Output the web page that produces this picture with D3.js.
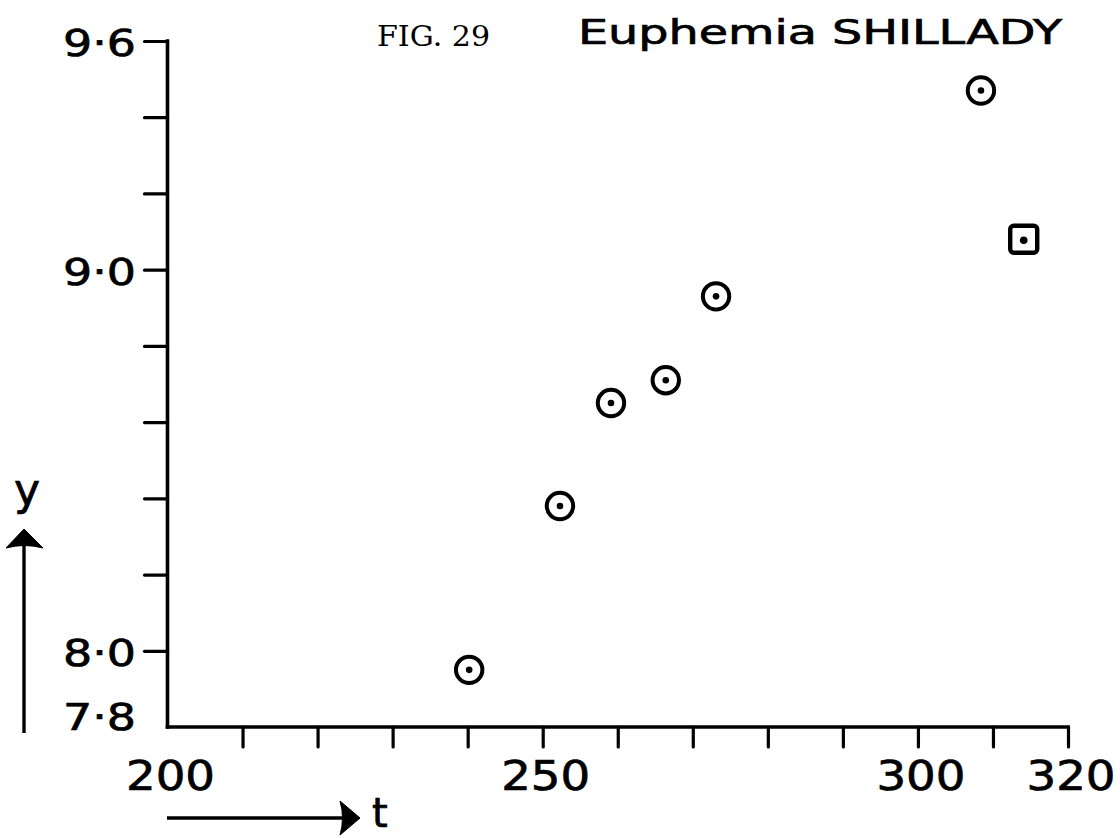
<!DOCTYPE html>
<html>
<head>
<meta charset="utf-8">
<script src="https://cdn.jsdelivr.net/npm/d3@7"></script>
<style>
  html, body { margin: 0; padding: 0; background: #fff; }
  svg { display: block; }
  .lbl { font-family: "DejaVu Sans", "Lato", sans-serif; fill: #000; stroke: #000; stroke-width: 0.7px; }
  .fig { font-family: "DejaVu Serif", "Liberation Serif", serif; fill: #000; }
</style>
</head>
<body>
<svg id="chart" width="1120" height="838"></svg>
<script>
// Observations: time t against y
const tValues = [240.2, 252.3, 259.1, 266.4, 273.1, 308.4];
const yValues = [7.95, 8.38, 8.65, 8.71, 8.93, 9.47];

// The one point plotted with a square symbol
const squareT = [314.1];
const squareY = [9.08];

// Axis ticks and labels
const xTickValues = [210, 220, 230, 240, 250, 260, 270, 280, 290, 300, 310, 320];
const xTickLabels = [200, 250, 300, 320];
const yTickValues = [8.0, 8.2, 8.4, 8.6, 8.8, 9.0, 9.2, 9.4, 9.6];
const yTickLabels = [9.6, 9.0, 8.0, 7.8];

const svg = d3.select("#chart");

const x = d3.scaleLinear().domain([200, 320]).range([167.5, 1068]);
const y = d3.scaleLinear().domain([7.8, 9.6]).range([727, 41]);

const ink = "#000";
const fmtY = v => v.toFixed(1).replace(".", "\u00B7");

// x axis: ticks hang below the line
const gx = svg.append("g")
  .attr("transform", `translate(0,${y(7.8)})`)
  .call(d3.axisBottom(x).tickValues(xTickValues).tickSize(20).tickSizeOuter(0).tickFormat(""));
gx.select(".domain").attr("stroke", ink).attr("stroke-width", 3.6)
  .attr("d", `M${x(200) - 1.8},0H${x(320) + 1.8}`);
gx.selectAll(".tick line").attr("stroke", ink).attr("stroke-width", 3.2).attr("stroke-linecap", "round");

// y axis: ticks point left
const gy = svg.append("g")
  .attr("transform", `translate(${x(200)},0)`)
  .call(d3.axisLeft(y).tickValues(yTickValues).tickSize(23).tickSizeOuter(0).tickFormat(""));
gy.select(".domain").attr("stroke", ink).attr("stroke-width", 3.6)
  .attr("d", `M0,${y(9.6) - 1.8}V${y(7.8) + 1.8}`);
gy.selectAll(".tick line").attr("stroke", ink).attr("stroke-width", 3.2).attr("stroke-linecap", "round");

// x tick labels
svg.append("g").selectAll("text")
  .data(xTickLabels)
  .join("text")
  .attr("class", "lbl")
  .attr("x", d => x(d) + 3)
  .attr("y", 790)
  .attr("text-anchor", "middle")
  .attr("font-size", 40)
  .attr("textLength", 89)
  .attr("lengthAdjust", "spacingAndGlyphs")
  .text(d => d);

// y tick labels (7·8 sits just above the baseline)
svg.append("g").selectAll("text")
  .data(yTickLabels)
  .join("text")
  .attr("class", "lbl")
  .attr("x", 136)
  .attr("y", d => (d === 7.8 ? y(d) - 10 : y(d) + 2))
  .attr("dy", "0.36em")
  .attr("text-anchor", "end")
  .attr("font-size", 37)
  .attr("textLength", 73)
  .attr("lengthAdjust", "spacingAndGlyphs")
  .text(fmtY);

// Circle-and-dot markers
const pts = tValues.map((t, i) => ({ t, v: yValues[i] }));
const gc = svg.append("g");
gc.selectAll("circle.ring")
  .data(pts)
  .join("circle")
  .attr("class", "ring")
  .attr("cx", d => x(d.t))
  .attr("cy", d => y(d.v))
  .attr("r", 13.2)
  .attr("fill", "#fff")
  .attr("stroke", ink)
  .attr("stroke-width", 4);
gc.selectAll("circle.dot")
  .data(pts)
  .join("circle")
  .attr("class", "dot")
  .attr("cx", d => x(d.t))
  .attr("cy", d => y(d.v))
  .attr("r", 3.3)
  .attr("fill", ink);

// Square-and-dot marker
const sq = squareT.map((t, i) => ({ t, v: squareY[i] }));
const gs = svg.append("g");
gs.selectAll("rect")
  .data(sq)
  .join("rect")
  .attr("x", d => x(d.t) - 13.5)
  .attr("y", d => y(d.v) - 13.5)
  .attr("width", 27)
  .attr("height", 27)
  .attr("rx", 3.5)
  .attr("fill", "#fff")
  .attr("stroke", ink)
  .attr("stroke-width", 4.4);
gs.selectAll("circle")
  .data(sq)
  .join("circle")
  .attr("cx", d => x(d.t))
  .attr("cy", d => y(d.v) + 1)
  .attr("r", 3.8)
  .attr("fill", ink);

// Axis name arrows
svg.append("line")
  .attr("x1", 24).attr("y1", 545).attr("x2", 24).attr("y2", 733)
  .attr("stroke", ink).attr("stroke-width", 3.4);
svg.append("path")
  .attr("d", "M24,529 L43,548 Q24,543 6,548 Z")
  .attr("fill", ink).attr("stroke", ink).attr("stroke-width", 1).attr("stroke-linejoin", "round");
svg.append("text")
  .attr("class", "lbl")
  .attr("x", 27).attr("y", 505)
  .attr("text-anchor", "middle")
  .attr("font-size", 44)
  .text("y");

svg.append("line")
  .attr("x1", 167).attr("y1", 818).attr("x2", 345).attr("y2", 818)
  .attr("stroke", ink).attr("stroke-width", 3.4);
svg.append("path")
  .attr("d", "M360,818 L340,801 Q345,818 340,835 Z")
  .attr("fill", ink).attr("stroke", ink).attr("stroke-width", 1).attr("stroke-linejoin", "round");
svg.append("text")
  .attr("class", "lbl")
  .attr("x", 372).attr("y", 827)
  .attr("font-size", 40)
  .text("t");

// Heading
svg.append("text")
  .attr("class", "fig")
  .attr("x", 377).attr("y", 46)
  .attr("font-size", 27)
  .attr("textLength", 113)
  .attr("lengthAdjust", "spacingAndGlyphs")
  .text("FIG. 29");
svg.append("text")
  .attr("class", "lbl")
  .attr("x", 578).attr("y", 44)
  .attr("font-size", 34)
  .attr("textLength", 484)
  .attr("lengthAdjust", "spacingAndGlyphs")
  .text("Euphemia SHILLADY");
</script>
</body>
</html>
